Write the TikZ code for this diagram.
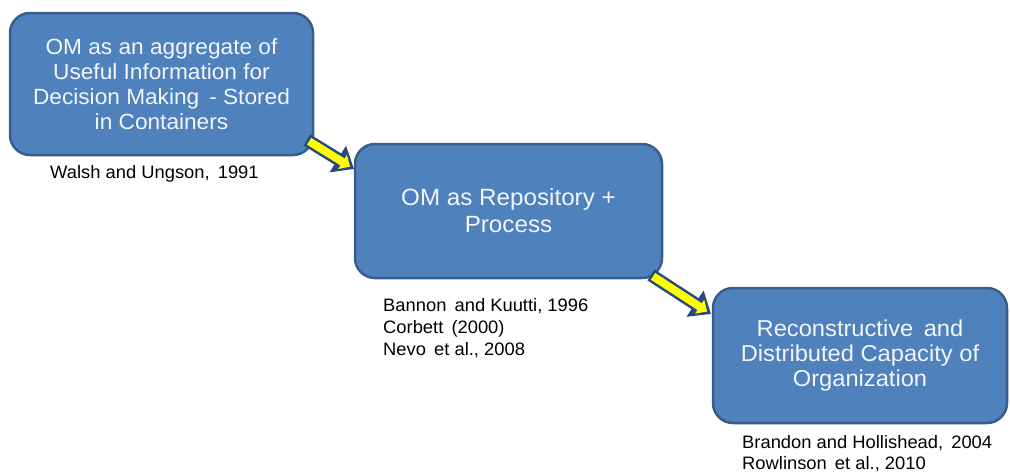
\documentclass[tikz,border=0pt]{standalone}
\usepackage{fontspec}
\setmainfont{Liberation Sans}
\newfontfamily\boxfont[FakeStretch=1.03]{Liberation Sans}
\newfontfamily\citefont[FakeStretch=1.02]{Liberation Sans}
\usetikzlibrary{arrows.meta,calc}
\definecolor{boxfill}{HTML}{4F81BD}
\definecolor{boxline}{HTML}{385D8A}
\definecolor{arrline}{HTML}{254A80}
\definecolor{arrfill}{HTML}{FFFF00}
\definecolor{boxtext}{HTML}{F2F5FA}
\tikzset{
  ombox/.style={draw=boxline, fill=boxfill, line width=2.5pt, rounded corners=20pt,
    text=boxtext, align=center, inner sep=0pt,
    font=\boxfont\fontsize{22}{25}\selectfont},
  cite/.style={anchor=base west, inner sep=0pt, text=black,
    font=\citefont\fontsize{18}{21}\selectfont},
  arrouter/.style={draw=arrline, line width=13pt,
    -{Triangle[width=30pt,length=19pt]}},
  arrinner/.style={draw=arrfill, line width=8pt, shorten <=2.5pt, shorten >=4.5pt,
    -{Triangle[width=16pt,length=9pt]}}
}
\begin{document}
\begin{tikzpicture}[x=1pt,y=-1pt]
\useasboundingbox (0,0) rectangle (1010,472);
% arrow end points, relative to the box corners
\coordinate (b1se) at (313,155);
\coordinate (b2nw) at (355,144);
\coordinate (b2se) at (662,278);
\coordinate (b3nw) at (713,288);
\coordinate (a1s) at ($(b1se)+(-6,-15)$);
\coordinate (a1e) at ($(b2nw)+(-1,25)$);
\coordinate (a2s) at ($(b2se)+(-11,-3)$);
\coordinate (a2e) at ($(b3nw)+(-2,26)$);
% boxes
\node[ombox, minimum width=303pt, minimum height=142pt] (b1) at (161.5,84)
  {OM as an aggregate of\\Useful Information for\\Decision Making\, - Stored\\in Containers};
\node[ombox, minimum width=307pt, minimum height=134pt,
  font=\boxfont\fontsize{23.5}{27}\selectfont] (b2) at (508.5,211)
  {OM as Repository +\\Process};
\node[ombox, minimum width=294pt, minimum height=135pt,
  font=\boxfont\fontsize{23}{25}\selectfont] (b3) at (860,355.5)
  {Reconstructive\, and\\Distributed Capacity of\\Organization};
\draw[arrouter] (a1s) -- (a1e);
\draw[arrinner] (a1s) -- (a1e);
\draw[arrouter] (a2s) -- (a2e);
\draw[arrinner] (a2s) -- (a2e);
% citations
\node[cite] (c1) at (50,178) {Walsh and Ungson,\, 1991};
\node[cite] (c2a) at (383,311) {Bannon\, and Kuutti, 1996};
\node[cite] (c2b) at (383,333) {Corbett\, (2000)};
\node[cite] (c2c) at (383,355) {Nevo\, et al., 2008};
\node[cite] (c3a) at (742,448) {Brandon and Hollishead,\, 2004};
\node[cite] (c3b) at (742,469) {Rowlinson\, et al., 2010};
\end{tikzpicture}
\end{document}
